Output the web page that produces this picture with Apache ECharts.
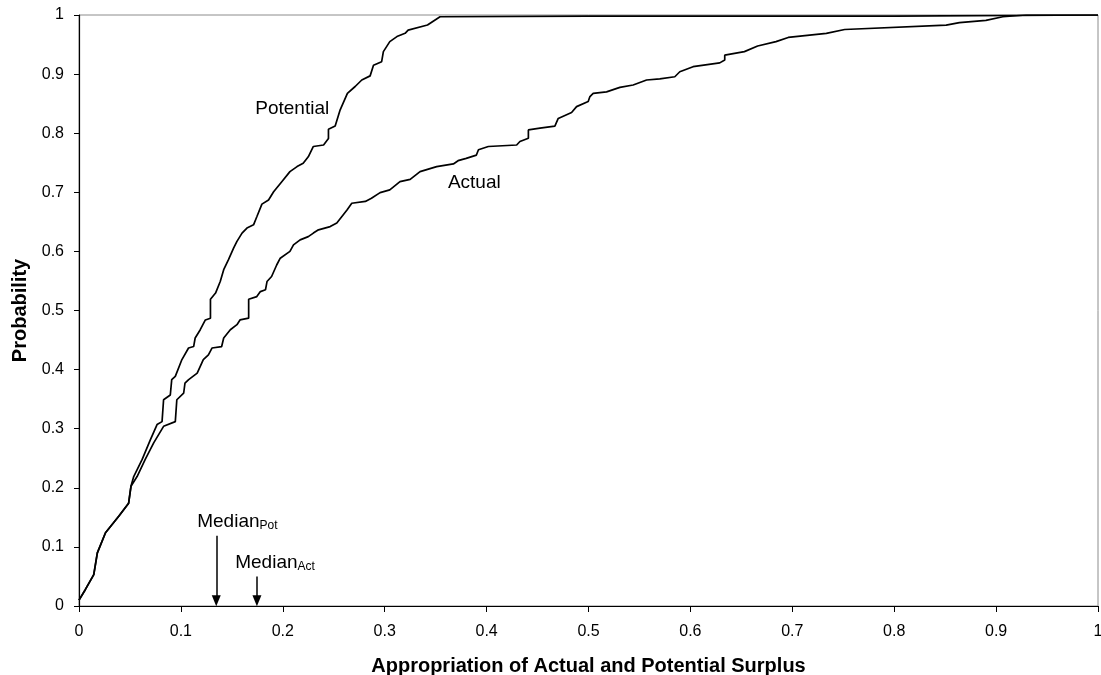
<!DOCTYPE html>
<html>
<head>
<meta charset="utf-8">
<script src="https://cdn.jsdelivr.net/npm/echarts@6/dist/echarts.min.js"></script>
<style>
html,body{margin:0;padding:0;background:#fff;}
#chart{width:1101px;height:675px;}
</style>
</head>
<body>
<div id="chart"></div>
<script>
// ---- data ----
const xTickValues = [0,0.1,0.2,0.3,0.4,0.5,0.6,0.7,0.8,0.9,1];
const yTickValues = [0,0.1,0.2,0.3,0.4,0.5,0.6,0.7,0.8,0.9,1];

const potentialX = [0,0.0063,0.0145,0.018,0.026,0.039,0.0487,0.051,0.0537,0.062,0.070,0.0766,0.0815,0.083,0.0896,0.091,0.0945,0.101,0.1075,0.1125,0.114,0.119,0.124,0.129,0.129,0.134,0.1386,0.142,0.1467,0.1517,0.155,0.160,0.1648,0.1713,0.1746,0.1795,0.186,0.191,0.199,0.207,0.214,0.220,0.225,0.230,0.240,0.2448,0.2448,0.2514,0.2563,0.2634,0.271,0.2775,0.2857,0.289,0.297,0.2987,0.305,0.312,0.320,0.323,0.342,0.3543,0.5,0.8,1];
const potentialY = [0.01,0.028,0.053,0.09,0.124,0.152,0.174,0.2025,0.219,0.248,0.281,0.307,0.312,0.349,0.357,0.383,0.3885,0.417,0.4365,0.439,0.4535,0.4675,0.484,0.487,0.519,0.5295,0.549,0.569,0.586,0.6056,0.617,0.631,0.6395,0.645,0.659,0.680,0.687,0.701,0.718,0.735,0.7435,0.749,0.760,0.7775,0.780,0.791,0.8065,0.812,0.8395,0.8675,0.879,0.890,0.897,0.915,0.921,0.938,0.955,0.9635,0.969,0.9745,0.983,0.997,0.998,0.998,1];

const actualX = [0,0.0063,0.0145,0.018,0.026,0.039,0.0487,0.051,0.057,0.065,0.0733,0.083,0.0945,0.096,0.1027,0.104,0.1076,0.116,0.122,0.127,0.1305,0.140,0.142,0.1485,0.155,0.158,0.1665,0.1665,0.1745,0.178,0.183,0.1845,0.189,0.194,0.1975,0.207,0.2105,0.217,0.225,0.230,0.235,0.2465,0.253,0.258,0.263,0.2677,0.281,0.287,0.2955,0.305,0.315,0.325,0.3347,0.351,0.3674,0.372,0.380,0.390,0.392,0.4017,0.4295,0.4327,0.441,0.441,0.4524,0.467,0.4703,0.4834,0.4883,0.4997,0.5014,0.5046,0.5177,0.5308,0.5438,0.557,0.570,0.5847,0.5896,0.6026,0.6288,0.6337,0.6337,0.653,0.666,0.684,0.696,0.7334,0.7514,0.851,0.864,0.890,0.9066,0.9295,1];
const actualY = [0.01,0.028,0.053,0.09,0.124,0.152,0.174,0.2025,0.219,0.248,0.276,0.304,0.312,0.349,0.360,0.377,0.383,0.394,0.417,0.425,0.4365,0.439,0.4535,0.4675,0.476,0.484,0.487,0.519,0.5235,0.532,0.535,0.549,0.5575,0.577,0.5885,0.600,0.611,0.6195,0.625,0.631,0.6365,0.642,0.648,0.659,0.670,0.6815,0.6845,0.690,0.6995,0.704,0.718,0.722,0.735,0.7435,0.748,0.7535,0.7575,0.763,0.772,0.7775,0.780,0.786,0.7915,0.8055,0.8085,0.812,0.825,0.835,0.845,0.8535,0.862,0.8675,0.870,0.8775,0.8815,0.890,0.892,0.8955,0.904,0.9125,0.919,0.924,0.932,0.938,0.9475,0.955,0.962,0.969,0.9755,0.983,0.987,0.991,0.997,1.0,1];

const medianPot = 0.1347;
const medianAct = 0.1746;

// ---- annotation placement (label anchors in data units) ----
const curveLabels = [
  {text:'Potential', at:[0.173, 0.8406]},
  {text:'Actual', at:[0.362, 0.716]}
];
const medianLabels = [
  {main:'Median', sub:'Pot', at:[0.116, 0.1445]},
  {main:'Median', sub:'Act', at:[0.1533, 0.0752]}
];
const arrowTops = [0.119, 0.05];

const FONT = '"Liberation Sans", Arial, Helvetica, sans-serif';
const zip = (xs, ys) => xs.map((x, i) => [x, ys[i]]);

const chart = echarts.init(document.getElementById('chart'), null, {renderer:'canvas'});
chart.setOption({
  animation:false,
  backgroundColor:'#fff',
  textStyle:{fontFamily:FONT, color:'#000'},
  grid:{left:79, right:3, top:15, bottom:69, containLabel:false, outerBoundsMode:'none',
    show:true, borderColor:'#8c8c8c', borderWidth:1, backgroundColor:'transparent'},
  xAxis:{
    type:'value', min:0, max:1, interval:0.1,
    name:'Appropriation of Actual and Potential Surplus',
    nameLocation:'middle', nameGap:50,
    nameTextStyle:{fontFamily:FONT, fontWeight:'bold', fontSize:20, color:'#000'},
    axisLine:{show:true, onZero:false, lineStyle:{color:'#000', width:1.2}},
    axisTick:{show:true, length:6, lineStyle:{color:'#000'}},
    axisLabel:{fontFamily:FONT, fontSize:16, color:'#000', margin:18,
      customValues: xTickValues},
    splitLine:{show:false}
  },
  yAxis:{
    type:'value', min:0, max:1, interval:0.1,
    name:'Probability',
    nameLocation:'middle', nameGap:48, nameRotate:90,
    nameTextStyle:{fontFamily:FONT, fontWeight:'bold', fontSize:20, color:'#000'},
    axisLine:{show:true, onZero:false, lineStyle:{color:'#000', width:1.2}},
    axisTick:{show:true, length:5, lineStyle:{color:'#000'}},
    axisLabel:{fontFamily:FONT, fontSize:16, color:'#000', margin:15},
    splitLine:{show:false}
  },
  series:[
    {
      name:'Potential', type:'line', data:zip(potentialX, potentialY),
      showSymbol:false, symbol:'none', smooth:false,
      lineStyle:{color:'#000', width:1.7}, silent:true
    },
    {
      name:'Actual', type:'line', data:zip(actualX, actualY),
      showSymbol:false, symbol:'none', smooth:false,
      lineStyle:{color:'#000', width:1.7}, silent:true,
      markLine:{
        silent:true, symbol:['none','triangle'], symbolSize:[9,11],
        label:{show:false},
        lineStyle:{color:'#000', width:1.5, type:'solid', opacity:1},
        itemStyle:{color:'#000'},
        data:[
          [{coord:[medianPot, arrowTops[0]], symbol:'none'}, {coord:[medianPot, 0.009], symbol:'triangle'}],
          [{coord:[medianAct, arrowTops[1]], symbol:'none'}, {coord:[medianAct, 0.009], symbol:'triangle'}]
        ]
      }
    },
    {
      type:'scatter', symbolSize:0, silent:true,
      itemStyle:{opacity:1, color:'#000'},
      data: curveLabels.map(l => ({value:l.at, name:l.text})),
      label:{show:true, position:'right', distance:0, color:'#000', opacity:1, fontSize:19, fontFamily:FONT,
        textBorderWidth:0, formatter: p => p.name}
    },
    {
      type:'scatter', symbolSize:0, silent:true,
      itemStyle:{opacity:1, color:'#000'},
      data: medianLabels.map(l => ({value:l.at, name:l.main, sub:l.sub})),
      label:{show:true, position:'right', distance:0, color:'#000', opacity:1, textBorderWidth:0,
        formatter: p => '{m|' + p.data.name + '}{s|' + p.data.sub + '}',
        rich:{
          m:{fontSize:19, fontFamily:FONT, color:'#000', lineHeight:22, verticalAlign:'bottom'},
          s:{fontSize:12, fontFamily:FONT, color:'#000', lineHeight:12, verticalAlign:'bottom'}
        }
      }
    }
  ]
});
</script>
</body>
</html>
